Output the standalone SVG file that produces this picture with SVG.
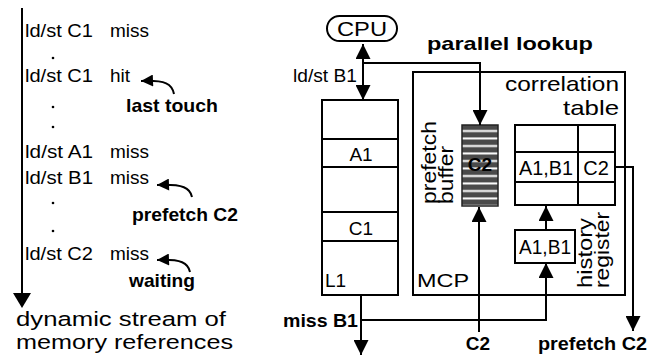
<svg xmlns="http://www.w3.org/2000/svg" width="654" height="358" viewBox="0 0 654 358">
<defs>
<marker id="ah" viewBox="0 0 14 14" refX="14" refY="7" markerWidth="15" markerHeight="15" markerUnits="userSpaceOnUse" orient="auto-start-reverse"><path d="M0,0 L14,7 L0,14 z" fill="#000"/></marker>
<marker id="ahs" viewBox="0 0 12 12" refX="12" refY="6" markerWidth="13" markerHeight="12" markerUnits="userSpaceOnUse" orient="auto"><path d="M0,0 L12,6 L0,12 z" fill="#000"/></marker>
<pattern id="hatch" width="8" height="7.5" patternUnits="userSpaceOnUse" y="125"><rect width="8" height="7.5" fill="#4a4a4a"/><rect y="5" width="8" height="2" fill="#fff"/></pattern>
</defs>
<style>
text{font-family:"Liberation Sans",Arial,sans-serif;fill:#000}
.r{font-size:19px}
.b{font-size:19px;font-weight:bold}
.m{text-anchor:middle}
.e{text-anchor:end}
.box{fill:#fff;stroke:#000;stroke-width:2}
.ln{fill:none;stroke:#000;stroke-width:2}
.dot{fill:#000}
</style>

<g id="stream">
<line x1="22" y1="8" x2="22" y2="296" class="ln" stroke-width="2.5"/>
<polygon points="13,293 31,293 22,308" fill="#000"/>
<text class="r" x="25" y="37" textLength="68" lengthAdjust="spacingAndGlyphs">ld/st C1</text><text class="r" x="110" y="37">miss</text>
<circle class="dot" cx="53" cy="58" r="1.3"/>
<text class="r" x="25" y="82" textLength="68" lengthAdjust="spacingAndGlyphs">ld/st C1</text><text class="r" x="110" y="82">hit</text>
<path class="ln" d="M174,94 C172,84 166,80 141,81" marker-end="url(#ahs)"/>
<text class="b" x="126" y="112" font-size="20" textLength="92" lengthAdjust="spacingAndGlyphs">last touch</text>
<circle class="dot" cx="53" cy="107" r="1.3"/>
<circle class="dot" cx="53" cy="127" r="1.3"/>
<text class="r" x="25" y="158" textLength="68" lengthAdjust="spacingAndGlyphs">ld/st A1</text><text class="r" x="110" y="158">miss</text>
<text class="r" x="25" y="184" textLength="68" lengthAdjust="spacingAndGlyphs">ld/st B1</text><text class="r" x="110" y="184">miss</text>
<path class="ln" d="M192,197 C190,188 184,184 157,185" marker-end="url(#ahs)"/>
<circle class="dot" cx="53" cy="203" r="1.3"/>
<text class="b" x="132" y="221" font-size="20" textLength="106" lengthAdjust="spacingAndGlyphs">prefetch C2</text>
<circle class="dot" cx="53" cy="231" r="1.3"/>
<text class="r" x="25" y="260" textLength="68" lengthAdjust="spacingAndGlyphs">ld/st C2</text><text class="r" x="110" y="260">miss</text>
<path class="ln" d="M190,272 C188,263 182,259 157,260" marker-end="url(#ahs)"/>
<text class="b" x="129" y="287" font-size="20" textLength="66" lengthAdjust="spacingAndGlyphs">waiting</text>
<text x="16" y="326" font-size="20.5" textLength="210" lengthAdjust="spacingAndGlyphs">dynamic stream of</text>
<text x="16" y="349" font-size="20.5" textLength="217" lengthAdjust="spacingAndGlyphs">memory references</text>
</g>

<g id="cpu">
<rect x="327" y="16" width="70" height="25" rx="12.5" class="box"/>
<text class="m" x="362" y="36" font-size="21" textLength="50" lengthAdjust="spacingAndGlyphs">CPU</text>
</g>

<g id="l1">
<rect x="322" y="100" width="76" height="195" class="box"/>
<line class="ln" x1="322" y1="139" x2="398" y2="139"/>
<line class="ln" x1="322" y1="167" x2="398" y2="167"/>
<line class="ln" x1="322" y1="212" x2="398" y2="212"/>
<line class="ln" x1="322" y1="241" x2="398" y2="241"/>
<text class="r m" x="361" y="161">A1</text>
<text class="r m" x="361" y="235">C1</text>
<text class="r" x="325" y="287">L1</text>
</g>

<g id="mcp">
<rect x="413" y="72" width="212" height="223" class="box"/>
<text class="r" x="417" y="287" textLength="52" lengthAdjust="spacingAndGlyphs">MCP</text>
</g>

<g id="prefetch-buffer">
<rect x="462" y="125" width="36" height="81" fill="url(#hatch)" stroke="#222" stroke-width="1.5"/>
<text class="b m" x="480" y="171">C2</text>
<text font-size="20" transform="translate(436,204) rotate(-90)" textLength="83" lengthAdjust="spacingAndGlyphs">prefetch</text>
<text font-size="20" transform="translate(453,204) rotate(-90)" textLength="58" lengthAdjust="spacingAndGlyphs">buffer</text>
</g>

<g id="correlation-table">
<text class="e" x="619" y="91" font-size="21" textLength="114" lengthAdjust="spacingAndGlyphs">correlation</text>
<text class="e" x="619" y="115" font-size="21" textLength="56" lengthAdjust="spacingAndGlyphs">table</text>
<rect x="515" y="125" width="100" height="80" class="box"/>
<line class="ln" x1="515" y1="152" x2="615" y2="152"/>
<line class="ln" x1="515" y1="182" x2="615" y2="182"/>
<line class="ln" x1="578" y1="125" x2="578" y2="205"/>
<text class="m" x="546" y="175" font-size="20" textLength="54" lengthAdjust="spacingAndGlyphs">A1,B1</text>
<text class="m" x="596" y="175" font-size="20">C2</text>
</g>

<g id="history-register">
<rect x="515" y="230" width="60" height="33" class="box"/>
<text class="m" x="545" y="254" font-size="20" textLength="52" lengthAdjust="spacingAndGlyphs">A1,B1</text>
<text font-size="20" transform="translate(592,288) rotate(-90)" textLength="70" lengthAdjust="spacingAndGlyphs">history</text>
<text font-size="20" transform="translate(609,288) rotate(-90)" textLength="76" lengthAdjust="spacingAndGlyphs">register</text>
</g>

<g id="connectors">
<line class="ln" x1="363" y1="44" x2="363" y2="100" marker-start="url(#ah)" marker-end="url(#ah)"/>
<path class="ln" d="M363,63 H480 V125" marker-end="url(#ah)"/>
<line class="ln" x1="361" y1="295" x2="361" y2="355" marker-end="url(#ah)"/>
<path class="ln" d="M361,320 H546 V263" marker-end="url(#ah)"/>
<line class="ln" x1="546" y1="230" x2="546" y2="206" marker-end="url(#ah)"/>
<line class="ln" x1="479" y1="332" x2="479" y2="207" marker-end="url(#ah)"/>
<path class="ln" d="M615,167 H633 V331" marker-end="url(#ah)"/>
</g>

<g id="labels">
<text class="r" x="293" y="82" textLength="64" lengthAdjust="spacingAndGlyphs">ld/st B1</text>
<text class="b" x="427" y="50" font-size="21" textLength="166" lengthAdjust="spacingAndGlyphs">parallel lookup</text>
<text class="b" x="283" y="327" font-size="20" textLength="75" lengthAdjust="spacingAndGlyphs">miss B1</text>
<text class="b m" x="478" y="350" font-size="20">C2</text>
<text class="b" x="538" y="350" font-size="20" textLength="109" lengthAdjust="spacingAndGlyphs">prefetch C2</text>
</g>
</svg>
